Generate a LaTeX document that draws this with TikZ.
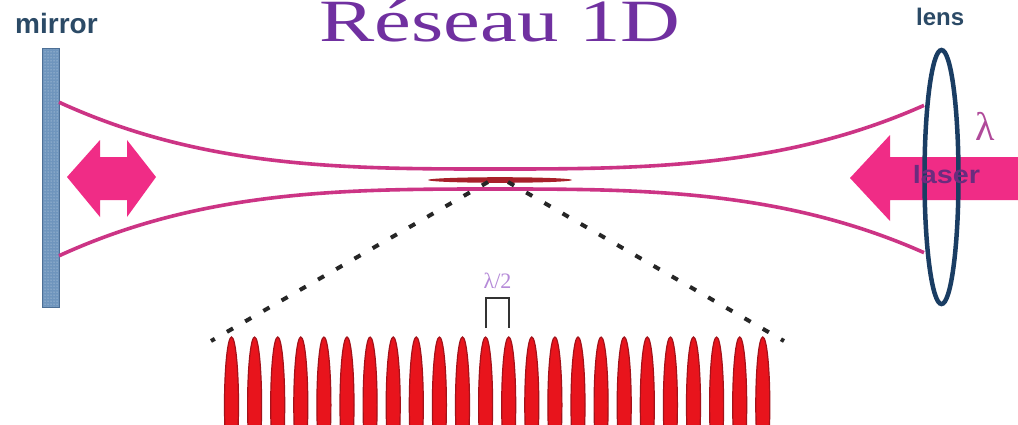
\documentclass[tikz,border=0pt]{standalone}
\usepackage{fontspec}
\setmainfont{Liberation Serif}
\newfontfamily\labelsans{Liberation Sans}
\usetikzlibrary{patterns}

\definecolor{titlepurple}{HTML}{7030A0}
\definecolor{labelblue}{HTML}{2B4A66}
\definecolor{mirrorblue}{HTML}{6F95BD}
\definecolor{mirroredge}{HTML}{4D6F95}
\definecolor{beampink}{HTML}{CC3485}
\definecolor{arrowpink}{HTML}{F02C86}
\definecolor{lensblue}{HTML}{1A3D63}
\definecolor{laserpurple}{HTML}{6B2C7E}
\definecolor{lambdapink}{HTML}{B04A9A}
\definecolor{halfviolet}{HTML}{B58AD8}
\definecolor{siteedge}{HTML}{A3121A}
\definecolor{sitered}{HTML}{E8141C}
\definecolor{waistred}{HTML}{A8202A}

\tikzset{
  heading/.style={font=\fontsize{60}{60}\selectfont, text=titlepurple, inner sep=0pt, anchor=base, xscale=1.38},
  tag/.style={font=\labelsans\bfseries\fontsize{#1}{#1}\selectfont, text=labelblue, inner sep=0pt, anchor=base west},
  beam/.style={draw=beampink, line width=3.6pt},
  pinkarrow/.style={fill=arrowpink, draw=none},
  lensline/.style={draw=lensblue, line width=4.5pt},
  site/.style={fill=sitered, draw=siteedge, line width=1.2pt},
  cone/.style={draw=black!85, line width=4pt, dash pattern=on 7pt off 14pt},
  gapbracket/.style={draw=black!80, line width=2.5pt},
}

\begin{document}
\begin{tikzpicture}[x=1pt, y=-1pt]
  \fill[white] (0,0) rectangle (1018,424);
  \useasboundingbox (0,0) rectangle (1018,424);

  % title and labels
  \node[heading] (title) at (500,41) {Réseau 1D};
  \node[tag=28] (mirrorlabel) at (15,33) {mirror};
  \node[tag=24] (lenslabel) at (916,25) {lens};

  % mirror
  \fill[mirrorblue] (42,48) rectangle (59,307);
  \fill[pattern=dots, pattern color=white!70!mirrorblue] (42,48) rectangle (59,307);
  \draw[mirroredge, line width=1pt] (42,48) rectangle (59,307);

  % focused beam between mirror and lens
  \draw[beam] plot[domain=59:924, samples=160, smooth] (\x, {179 - (10 + 15*(abs(\x-495)/265)^3)});
  \draw[beam] plot[domain=59:924, samples=160, smooth] (\x, {179 + (10 + 15*(abs(\x-495)/265)^3)});

  % trapped region at the waist
  \fill[waistred] (500,180) ellipse [x radius=72, y radius=2.8];

  % double arrow next to the mirror
  \fill[pinkarrow] (67,177) -- (100,140) -- (100,157) -- (127,157) -- (127,140) -- (156,177)
     -- (127,217) -- (127,200) -- (100,200) -- (100,217) -- cycle;

  % incoming laser arrow
  \fill[pinkarrow] (850,178) -- (890,135) -- (890,157) -- (1018,157) -- (1018,200)
     -- (890,200) -- (890,221) -- cycle;

  % lens
  \draw[lensline] (941.5,177) ellipse [x radius=17, y radius=127];

  \node[font=\labelsans\bfseries\fontsize{25}{25}\selectfont, text=laserpurple, inner sep=0pt,
        anchor=base, xscale=1.15] (laserlabel) at (946.5,183) {laser};
  \node[font=\fontsize{40}{40}\selectfont, text=lambdapink, inner sep=0pt, anchor=base]
        (lambda) at (985,140) {λ};

  % zoom cone towards the lattice
  \coordinate (zl) at (488,182);
  \coordinate (zr) at (508,182);
  \coordinate (el) at (211,341);
  \coordinate (er) at (784,341);
  \draw[cone] (zl) -- (el);
  \draw[cone] (zr) -- (er);

  % lattice sites
  \foreach \i in {0,...,23}{
    \path[site] ({231.5+23.1*\i},405) ellipse [x radius=7, y radius=68];
  }

  % lattice spacing
  \coordinate (ba) at (486,328);
  \coordinate (bb) at (486,298);
  \coordinate (bc) at (509,298);
  \coordinate (bd) at (509,328);
  \draw[gapbracket] (ba) -- (bb) -- (bc) -- (bd);
  \node[font=\fontsize{22}{22}\selectfont, text=halfviolet, inner sep=0pt, anchor=base]
        (halflambda) at (497.5,288) {λ/2};
\end{tikzpicture}
\end{document}
